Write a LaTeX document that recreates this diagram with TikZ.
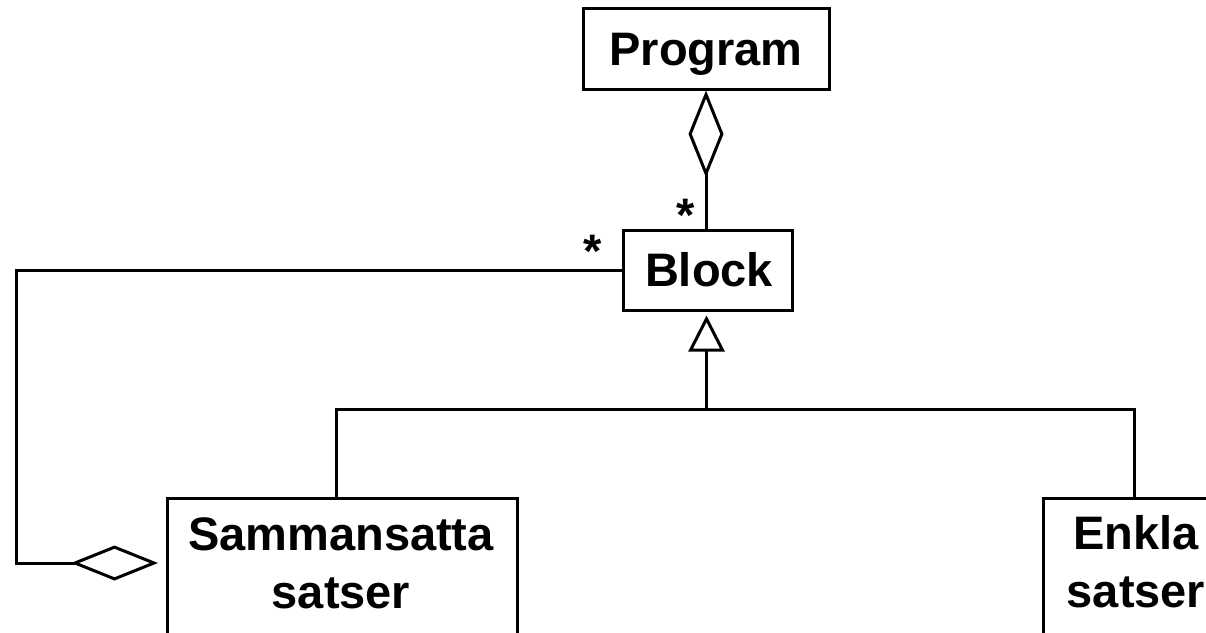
\documentclass[tikz,border=0pt]{standalone}
\usepackage{fontspec}
\setmainfont{Liberation Sans}
\usetikzlibrary{arrows.meta}
\begin{document}
\begin{tikzpicture}[x=1pt,y=-1pt,
  box/.style={draw,line width=3pt,inner sep=0pt},
  lbl/.style={font=\fontsize{47}{56}\selectfont\bfseries,anchor=base,inner sep=0pt},
  mult/.style={font=\fontsize{47}{56}\selectfont\bfseries,anchor=base,inner sep=0pt},
  conn/.style={line width=3pt},
  agg/.style={-{Diamond[open,length=87pt 0,width=35pt 0]}},
  gen/.style={-{Triangle[open,length=36pt 0,width=36pt 0]}}]
\useasboundingbox (0,0) rectangle (1206,632);
\clip (0,0) rectangle (1206,632);
\fill[white] (0,0) rectangle (1206,632);
% classes
\node[box,minimum width=246pt,minimum height=81pt] (prog) at (706,48.5) {};
\node[lbl] (progt) at (706,65) {Program};
\node[box,minimum width=169pt,minimum height=80pt] (block) at (707.5,270) {};
\node[lbl] (blockt) at (709,286) {Block};
\node[box,minimum width=350pt,minimum height=200pt,anchor=north west] (sam) at (166,497) {};
\node[lbl] (samt1) at (341,550) {Sammansatta};
\node[lbl] (samt2) at (341,608) {satser};
\node[box,minimum width=188pt,minimum height=200pt,anchor=north west] (enk) at (1042,497) {};
\node[lbl] (enkt1) at (1136,549) {Enkla};
\node[lbl] (enkt2) at (1136,607) {satser};
% Program <>-- Block
\draw[conn,agg] ([xshift=-1.5pt]block.north) -- ([xshift=-1.5pt]block.north |- prog.south);
\node[mult] (m1) at (686,231) {*};
% generalization
\coordinate (j) at (706.5,409);
\draw[conn,gen,shorten >=4pt] (j) -- (j |- block.south);
\draw[conn] ([xshift=-6pt]sam.north) |- (j) -| ([xshift=-3pt]enk.north);
% Sammansatta <>-- Block
\coordinate (lc) at (16,563);
\coordinate (sd) at (158,563);
\draw[conn,agg] (block.west) -| (lc) -- (sd);
\node[mult] (m2) at (593,267) {*};
\end{tikzpicture}
\end{document}
